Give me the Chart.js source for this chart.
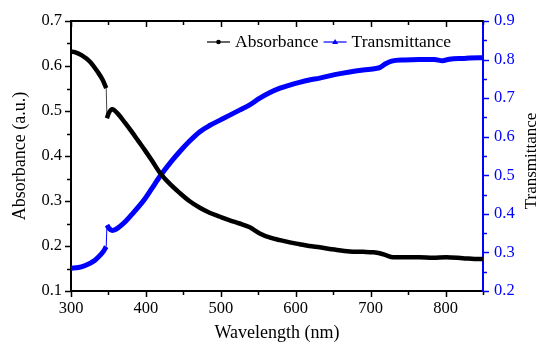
<!DOCTYPE html>
<html><head><meta charset="utf-8">
<script src="https://cdn.jsdelivr.net/npm/chart.js@4.4.0/dist/chart.umd.min.js"></script>
<style>html,body{margin:0;padding:0;background:#fff;overflow:hidden}#wrap{width:550px;height:350px}</style>
</head><body><div id="wrap"><canvas id="c" width="550" height="350"></canvas></div>
<script>
// ---- data ----
const absWavelength = [300,305,314,325,336,342,347,348,350,355,363,372,381,390,399,408,419,432,445,458,472,485,499,512,525,538,552,565,579,592,605,618,632,652,672,690,703,712,721,730,748,765,783,801,823,845,850];
const absValue      = [0.632,0.631,0.624,0.610,0.586,0.570,0.551,0.484,0.494,0.504,0.493,0.474,0.454,0.433,0.412,0.390,0.362,0.338,0.318,0.300,0.285,0.274,0.265,0.257,0.250,0.242,0.228,0.219,0.213,0.208,0.204,0.200,0.197,0.192,0.188,0.187,0.186,0.184,0.179,0.175,0.175,0.175,0.174,0.175,0.173,0.171,0.171];
const transWavelength = [300,310,319,332,340,343,347,348,351,355,360,365,373,381,390,399,408,419,434,445,458,472,485,499,512,525,538,552,565,579,592,605,618,632,652,672,690,707,712,720,728,745,765,785,796,805,825,845,850];
const transValue      = [0.259,0.261,0.266,0.280,0.295,0.302,0.315,0.371,0.362,0.357,0.360,0.367,0.381,0.398,0.418,0.440,0.466,0.498,0.536,0.561,0.588,0.613,0.629,0.643,0.656,0.669,0.682,0.700,0.714,0.726,0.734,0.741,0.747,0.752,0.761,0.768,0.773,0.777,0.779,0.789,0.796,0.799,0.800,0.800,0.797,0.801,0.803,0.805,0.805];
const seriesNames = ['Absorbance','Transmittance'];
const xTicks = [300,400,500,600,700,800];
const absTicks = [0.1,0.2,0.3,0.4,0.5,0.6,0.7];
const transTicks = [0.2,0.3,0.4,0.5,0.6,0.7,0.8,0.9];
const xTitle = 'Wavelength (nm)';
const absTitle = 'Absorbance (a.u.)';
const transTitle = 'Transmittance';
const xMinorStep = 50, absMinorStep = 0.05, transMinorStep = 0.05;

const FONT = "'Liberation Serif','Times New Roman',serif";
const BLUE = '#0000FF';

// split each series at its step so the smooth curve is not bent by it
function build(xs, ys){
  const p = xs.map((x,i)=>({x:x, y:ys[i]}));
  let j = -1;
  for (let i = 1; i < p.length; i++) {
    if (p[i].x - p[i-1].x <= 1.5 && Math.abs(p[i].y - p[i-1].y) > 0.03) { j = i; break; }
  }
  if (j < 0) return { main: p, link: [] };
  const main = p.slice(0, j).concat([{ x: (p[j-1].x + p[j].x) / 2, y: null }], p.slice(j));
  return { main: main, link: [p[j-1], p[j]] };
}
const absS = build(absWavelength, absValue);
const trS = build(transWavelength, transValue);

const tickPlugin = {
  id: 'ticksAndLegend',
  afterDraw(chart){
    const ctx = chart.ctx, a = chart.chartArea;
    const sx = chart.scales.x, sa = chart.scales.yA, st = chart.scales.yT;
    ctx.save();
    ctx.strokeStyle = '#000'; ctx.lineWidth = 2;
    ctx.beginPath(); ctx.moveTo(a.left-1, a.top); ctx.lineTo(a.right, a.top); ctx.stroke();
    ctx.lineWidth = 1.5;
    for (let v = sx.min; v <= sx.max + 1e-9; v += xMinorStep) {
      const p = Math.round(sx.getPixelForValue(v)) + 0.5;
      const len = xTicks.includes(v) ? 6 : 4;
      ctx.beginPath(); ctx.moveTo(p, a.bottom); ctx.lineTo(p, a.bottom + len); ctx.stroke();
      ctx.beginPath(); ctx.moveTo(p, a.top); ctx.lineTo(p, a.top + len); ctx.stroke();
    }
    for (let v = sa.min; v <= sa.max + 1e-9; v += absMinorStep) {
      const p = Math.round(sa.getPixelForValue(v)) + 0.5;
      const major = absTicks.some(t => Math.abs(t - v) < 1e-6);
      ctx.beginPath(); ctx.moveTo(a.left, p); ctx.lineTo(a.left - (major ? 6 : 4), p); ctx.stroke();
    }
    ctx.strokeStyle = BLUE;
    for (let v = st.min; v <= st.max + 1e-9; v += transMinorStep) {
      const p = Math.round(st.getPixelForValue(v)) + 0.5;
      const major = transTicks.some(t => Math.abs(t - v) < 1e-6);
      ctx.beginPath(); ctx.moveTo(a.right, p); ctx.lineTo(a.right + (major ? 6 : 4), p); ctx.stroke();
    }
    ctx.fillStyle = '#000';
    ctx.font = '17px ' + FONT;
    ctx.textAlign = 'center'; ctx.textBaseline = 'middle';
    ctx.save(); ctx.translate(532, 161); ctx.rotate(-Math.PI/2); ctx.fillText(transTitle, 0, 0); ctx.restore();
    const ly = 42;
    let x = 207;
    ctx.textAlign = 'left';
    ctx.font = '17.5px ' + FONT;
    const items = [{c:'#000', m:'dot'}, {c:BLUE, m:'tri'}];
    items.forEach((it, i) => {
      ctx.strokeStyle = it.c; ctx.fillStyle = it.c; ctx.lineWidth = 1.2;
      ctx.beginPath(); ctx.moveTo(x, ly); ctx.lineTo(x + 23, ly); ctx.stroke();
      const cx = x + 11.5;
      ctx.beginPath();
      if (it.m === 'dot') { ctx.arc(cx, ly, 2.3, 0, Math.PI*2); }
      else { ctx.moveTo(cx, ly - 3); ctx.lineTo(cx + 3, ly + 2); ctx.lineTo(cx - 3, ly + 2); ctx.closePath(); }
      ctx.fill();
      ctx.fillStyle = '#000';
      ctx.fillText(seriesNames[i], x + 28, ly);
      x += 28 + ctx.measureText(seriesNames[i]).width + 5;
    });
    ctx.restore();
  }
};

const common = { pointRadius: 0, cubicInterpolationMode: 'monotone', spanGaps: false };
new Chart(document.getElementById('c'), {
  type: 'line',
  data: {
    datasets: [
      Object.assign({ label: seriesNames[0], data: absS.main, yAxisID: 'yA', borderColor: '#000', borderWidth: 4.5 }, common),
      Object.assign({ label: seriesNames[0] + ' step', data: absS.link, yAxisID: 'yA', borderColor: '#444', borderWidth: 1 }, common),
      Object.assign({ label: seriesNames[1], data: trS.main, yAxisID: 'yT', borderColor: BLUE, borderWidth: 5 }, common),
      Object.assign({ label: seriesNames[1] + ' step', data: trS.link, yAxisID: 'yT', borderColor: BLUE, borderWidth: 1 }, common)
    ]
  },
  options: {
    responsive: false, animation: false, devicePixelRatio: 1,
    layout: { padding: { top: 21, left: 0, right: 0, bottom: 0 } },
    plugins: { legend: { display: false }, tooltip: { enabled: false } },
    scales: {
      x: { type: 'linear', position: 'bottom', min: 300, max: 850,
        afterBuildTicks: s => { s.ticks = xTicks.map(v => ({ value: v })); },
        afterFit: s => { s.height = 59; },
        grid: { display: false, drawTicks: false },
        border: { display: true, color: '#000', width: 2 },
        ticks: { padding: 8, maxRotation: 0, color: '#000', font: { family: FONT, size: 16.5 }, callback: v => String(v) },
        title: { display: true, text: xTitle, color: '#000', font: { family: FONT, size: 18 }, padding: { top: 0, bottom: 6 } } },
      yA: { type: 'linear', position: 'left', min: 0.1, max: 0.7,
        afterBuildTicks: s => { s.ticks = absTicks.map(v => ({ value: v })); },
        afterFit: s => { s.width = 71; },
        grid: { display: false, drawTicks: false },
        border: { display: true, color: '#000', width: 2 },
        ticks: { padding: 9, color: '#000', font: { family: FONT, size: 16.5 }, callback: v => Number(v).toFixed(1) },
        title: { display: true, text: absTitle, color: '#000', font: { family: FONT, size: 18 }, padding: { top: 9, bottom: 0 } } },
      yT: { type: 'linear', position: 'right', min: 0.2, max: 0.9,
        afterBuildTicks: s => { s.ticks = transTicks.map(v => ({ value: v })); },
        afterFit: s => { s.width = 67; },
        grid: { display: false, drawTicks: false },
        border: { display: true, color: BLUE, width: 2 },
        ticks: { padding: 11, color: BLUE, font: { family: FONT, size: 16.5 }, callback: v => Number(v).toFixed(1) },
        title: { display: false } }
    }
  },
  plugins: [tickPlugin]
});
</script></body></html>
